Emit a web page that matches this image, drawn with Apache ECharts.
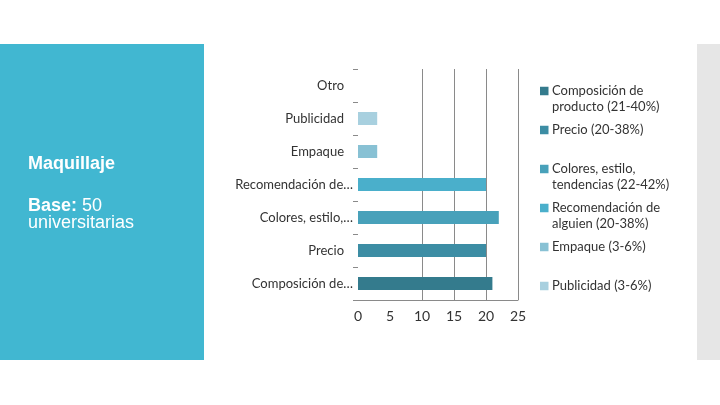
<!DOCTYPE html>
<html>
<head>
<meta charset="utf-8">
<script src="https://cdn.jsdelivr.net/npm/echarts@6/dist/echarts.min.js"></script>
<style>html,body{margin:0;padding:0;background:#fff}#c{width:720px;height:405px}</style>
</head>
<body>
<div id="c"></div>
<script>
// categories bottom-to-top (ECharts category y axis order)
const categories = ['Composición de…', 'Precio', 'Colores, estilo,…', 'Recomendación de…', 'Empaque', 'Publicidad', 'Otro'];
const values = [21, 20, 22, 20, 3, 3, 0];
const legendNames = [
  'Composición de\nproducto (21-40%)',
  'Precio (20-38%)',
  'Colores, estilo,\ntendencias (22-42%)',
  'Recomendación de\nalguien (20-38%)',
  'Empaque (3-6%)',
  'Publicidad (3-6%)'
];
const colors = ['#347B8D', '#3C8DA4', '#48A1BA', '#4AAFCB', '#88C1D4', '#A8D0DF'];
const xTicks = [0, 5, 10, 15, 20, 25];

const chart = echarts.init(document.getElementById('c'), null, {renderer: 'canvas'});

const series = legendNames.map((name, i) => ({
  name: name,
  type: 'bar',
  stack: 'all',
  barWidth: 13,
  itemStyle: {color: colors[i]},
  data: values.map((v, j) => (j === i ? v : '-'))
}));

const rich = {
  t: {fontFamily: 'Lato', fontSize: 13, color: '#333333', lineHeight: 16},
  gap: {width: 3.5, height: 8},
  ind: {width: 12, height: 8}
};
colors.forEach((c, i) => {
  rich['b' + i] = {width: 8.5, height: 8.5, backgroundColor: c};
});

const option = {
  backgroundColor: '#ffffff',
  animation: false,
  graphic: [
    {type: 'rect', shape: {x: 0, y: 44, width: 204, height: 316}, style: {fill: '#41B7D1'}, z: -1},
    {type: 'rect', shape: {x: 697, y: 44, width: 23, height: 316}, style: {fill: '#E6E6E6'}, z: -1},
    {type: 'text', x: 28, y: 164, style: {text: 'Maquillaje', fill: '#ffffff', font: 'bold 18px "Liberation Sans", Arial, sans-serif', verticalAlign: 'middle'}},
    {type: 'text', x: 28, y: 198, style: {
      text: '{b|Base:}{r| 50}\n{r|universitarias}',
      verticalAlign: 'top',
      rich: {
        b: {fill: '#ffffff', fontWeight: 'bold', fontSize: 18, fontFamily: '"Liberation Sans", Arial, sans-serif', lineHeight: 17},
        r: {fill: '#ffffff', fontSize: 18, fontFamily: '"Liberation Sans", Arial, sans-serif', lineHeight: 17}
      }
    }}
  ],
  grid: {left: 358, top: 69, width: 160, height: 231, containLabel: false},
  legend: {
    orient: 'vertical',
    left: 535,
    top: 83,
    padding: 0,
    itemGap: 7,
    itemWidth: 0,
    itemHeight: 8,
    icon: 'none',
    selectedMode: false,
    data: legendNames,
    formatter: function (name) {
      const i = legendNames.indexOf(name);
      const lines = name.split('\n');
      const l1 = '{b' + i + '|}{gap|}{t|' + lines[0] + '}';
      const l2 = lines[1] ? '{ind|}{t|' + lines[1] + '}' : '{t| }';
      return l1 + '\n' + l2;
    },
    textStyle: {rich: rich, lineHeight: 16}
  },
  xAxis: {
    type: 'value',
    min: 0,
    max: 25,
    interval: 5,
    axisLine: {show: true, lineStyle: {color: '#8a8a8a', width: 1}},
    axisTick: {show: false},
    axisLabel: {
      color: '#333333', fontFamily: 'Lato', fontSize: 14, margin: 9,
      formatter: function (v) { return xTicks.indexOf(v) >= 0 ? String(v) : ''; }
    },
    splitLine: {show: true, lineStyle: {color: ['rgba(0,0,0,0)', 'rgba(0,0,0,0)', '#8a8a8a', '#8a8a8a', '#8a8a8a', '#8a8a8a'], width: 1}}
  },
  yAxis: {
    type: 'category',
    data: categories,
    axisLine: {show: false},
    axisTick: {show: true, length: 5, lineStyle: {color: '#8a8a8a'}},
    axisLabel: {
      margin: 5,
      formatter: function (v) {
        return v.endsWith('…') ? '{n|' + v + '}' : '{n|' + v + '}{g|}';
      },
      rich: {
        n: {fontFamily: 'Lato', fontSize: 13, color: '#333333'},
        g: {width: 9}
      }
    },
    splitLine: {show: false}
  },
  series: series
};
chart.setOption(option);
</script>
</body>
</html>
